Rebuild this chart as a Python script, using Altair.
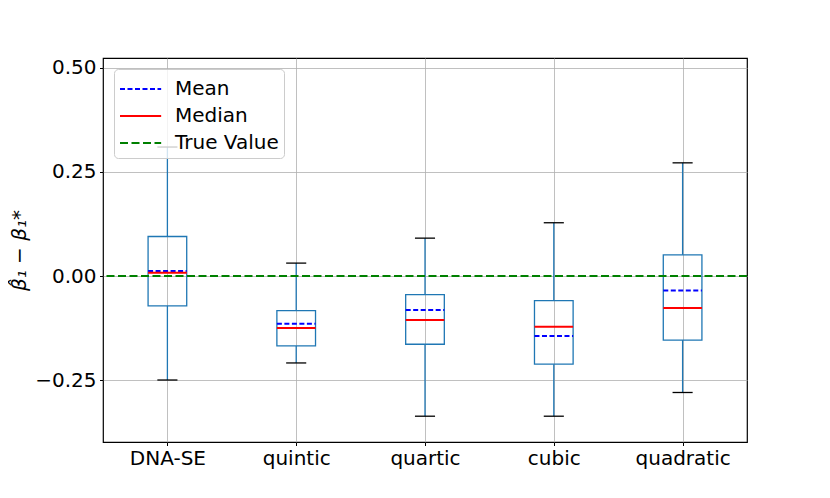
import altair as alt
import pandas as pd

categories = ["DNA-SE", "quintic", "quartic", "cubic", "quadratic"]
whisker_low = [-0.250, -0.209, -0.337, -0.337, -0.280]
q1 = [-0.072, -0.168, -0.164, -0.212, -0.154]
medians = [0.008, -0.125, -0.106, -0.122, -0.077]
means = [0.012, -0.115, -0.082, -0.144, -0.035]
q3 = [0.095, -0.083, -0.045, -0.059, 0.051]
whisker_high = [0.310, 0.031, 0.091, 0.128, 0.272]
true_value = 0.0
series_names = ["Mean", "Median", "True Value"]
series_colors = ["#0000ff", "#ff0000", "#008000"]

positions = list(range(1, len(categories) + 1))
df = pd.DataFrame({
    "cat": categories, "pos": positions, "lo": whisker_low, "q1": q1,
    "q3": q3, "hi": whisker_high,
})
stats = pd.DataFrame({
    "pos": positions * 2,
    "value": means + medians,
    "series": ["Mean"] * len(means) + ["Median"] * len(medians),
})
truth = pd.DataFrame({"value": [true_value], "series": ["True Value"]})

FONT = "DejaVu Sans"
FS = 20
label_list = "[" + ",".join("'" + c + "'" for c in categories) + "]"
xscale = alt.Scale(domain=[0.5, len(categories) + 0.5], nice=False, zero=False)
yscale = alt.Scale(domain=[-0.399, 0.524], nice=False, zero=False)
xaxis = alt.Axis(values=positions, labelExpr=label_list + "[datum.value-1]",
                 title=None, labelFontSize=FS, labelFont=FONT, labelColor="black",
                 tickColor="black", tickSize=3.5, labelPadding=3, grid=True,
                 domain=False)
yaxis = alt.Axis(values=[-0.25, 0.0, 0.25, 0.5], format=".2f",
                 labelExpr="replace(datum.label, '-', '\u2212')",
                 title="\u03b2\u0302\u2081 \u2212 \u03b2\u2081*", titleFontSize=FS,
                 titleFont=FONT, titleFontStyle="italic", titleFontWeight="normal",
                 titleColor="black", titlePadding=5,
                 labelFontSize=FS, labelFont=FONT, labelColor="black",
                 tickColor="black", tickSize=3.5, labelPadding=3.5, grid=True,
                 domain=False)

def X(f):
    return alt.X(f, type="quantitative", scale=xscale, axis=xaxis)

def Y(f):
    return alt.Y(f, type="quantitative", scale=yscale, axis=yaxis)

base = alt.Chart(df).transform_calculate(
    xl="datum.pos - 0.15", xr="datum.pos + 0.15",
    cl="datum.pos - 0.078", cr="datum.pos + 0.078",
)

boxes = base.mark_rect(fillOpacity=0, stroke="#1f77b4", strokeWidth=1.3).encode(
    x=X("xl"), x2="xr", y=Y("q1"), y2="q3")
low_wh = base.mark_rule(color="#1f77b4", strokeWidth=1.3).encode(
    x=X("pos"), y=Y("lo"), y2="q1")
high_wh = base.mark_rule(color="#1f77b4", strokeWidth=1.3).encode(
    x=X("pos"), y=Y("q3"), y2="hi")
low_cap = base.mark_rule(color="black", strokeWidth=1.3).encode(
    x=X("cl"), x2="cr", y=Y("lo"))
high_cap = base.mark_rule(color="black", strokeWidth=1.3).encode(
    x=X("cl"), x2="cr", y=Y("hi"))

color_enc = alt.Color("series:N", scale=alt.Scale(domain=series_names, range=series_colors),
                      legend=alt.Legend(title=None, orient="top-left", offset=11,
                                        symbolType="M-1,0H1.94", symbolSize=784,
                                        symbolStrokeWidth=2, labelFontSize=FS,
                                        labelFont=FONT, labelColor="black",
                                        labelOffset=26, padding=5, rowPadding=2,
                                        fillColor="rgba(255,255,255,0.8)",
                                        strokeColor="#cccccc", cornerRadius=4))
dash_enc = alt.StrokeDash("series:N",
                          scale=alt.Scale(domain=series_names,
                                          range=[[5, 2.5], [1, 0], [8, 3.5]]),
                          legend=None)

stat_lines = alt.Chart(stats).transform_calculate(
    xl="datum.pos - 0.15", xr="datum.pos + 0.15"
).mark_rule(strokeWidth=2).encode(
    x=X("xl"), x2="xr", y=Y("value"), color=color_enc, strokeDash=dash_enc)

truth_line = alt.Chart(truth).mark_rule(strokeWidth=2.2).encode(
    y=Y("value"), color=color_enc, strokeDash=dash_enc)

chart = alt.layer(
    low_wh, high_wh, boxes, low_cap, high_cap, stat_lines, truth_line
).properties(
    width=644, height=384,
    autosize=alt.AutoSizeParams(type="none"),
    padding={"left": 95, "top": 50, "right": 75, "bottom": 48},
    background="white",
).configure_view(stroke="black", strokeWidth=1.2).configure_axis(
    gridColor="#b0b0b0", gridWidth=0.8, gridOpacity=1
)

chart.save("out.html", embed_options={"renderer": "svg", "actions": False})
